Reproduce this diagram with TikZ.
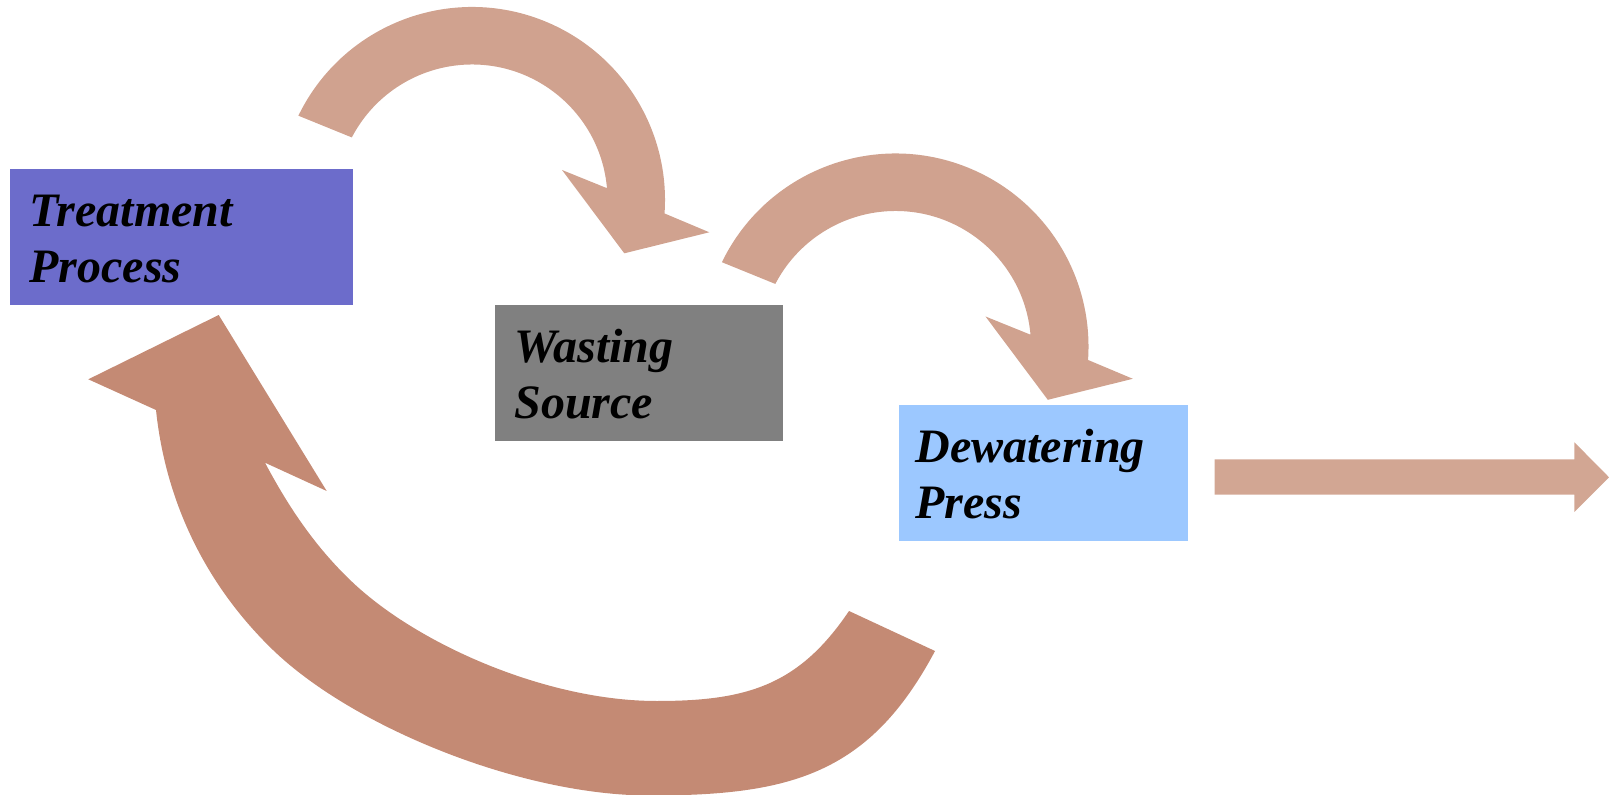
\documentclass[tikz,border=0pt]{standalone}
\usepackage{fontspec}
\setmainfont{Liberation Serif}
\definecolor{arrlight}{HTML}{D0A28F}
\definecolor{arrstraight}{HTML}{D2A693}
\definecolor{arrdark}{HTML}{C48A74}
\definecolor{tpcol}{HTML}{6C6CCB}
\definecolor{wscol}{HTML}{808080}
\definecolor{dpcol}{HTML}{9CC8FF}
\tikzset{
  boxnode/.style={anchor=north west, inner sep=0pt, draw=none, minimum height=68pt},
  lbl/.style={anchor=base west, inner sep=0pt, align=left, font=\fontsize{24}{28}\selectfont\bfseries\itshape},
  curvedarrow/.pic={
    \fill[arrlight] ([shift={(205.9:193)}]472,200)
      arc[start angle=205.9, end angle=364, radius=193]
      -- (709.3,232.3) -- (624.3,253.3) -- (562,170)
      -- ([shift={(355:135.5)}]472,200)
      arc[start angle=355, end angle=207.5, radius=135.5]
      -- cycle;
  }
}
\begin{document}
\begin{tikzpicture}[x=0.5pt,y=-0.5pt]
\useasboundingbox (0,0) rectangle (1609,795);
\clip (0,0) rectangle (1609,795);
% boxes
\node[boxnode, fill=tpcol, minimum width=171.5pt] (tp) at (10,169) {};
\node[boxnode, fill=wscol, minimum width=144pt] (ws) at (495,305) {};
\node[boxnode, fill=dpcol, minimum width=144.5pt] (dp) at (899,405) {};
% labels (base = baseline of the last line)
\node[lbl] (tpl) at (29,282.7) {Treatment\\Process};
\node[lbl] (wsl) at (514,418.3) {Wasting\\Source};
\node[lbl] (dpl) at (915,518) {Dewatering\\Press};
% curved arrows
\pic at (0,0) {curvedarrow};
\pic at (423.5,146.5) {curvedarrow};
% big return arrow
\fill[arrdark] (218.7,315) -- (326.7,491) -- (265,462.7)
  .. controls (288.9,507.7) and (316.1,548.1) .. (353.3,583)
  .. controls (418.9,644.6) and (546.7,701) .. (656.7,701)
  .. controls (746.7,701) and (798.7,685.6) .. (849,611)
  -- (935,651)
  .. controls (869.3,774.6) and (790,795.5) .. (650,795.5)
  .. controls (520,795.5) and (352.1,726.4) .. (273,650)
  .. controls (206.1,585.4) and (165.7,502.5) .. (156,410)
  -- (88.3,379.3) -- cycle;
% straight output arrow
\coordinate (out) at (1609,477.3);
\fill[arrstraight] (1214.5,459.3) -- (1574.4,459.3) -- (1574.4,442.3) -- (out) -- (1574.4,512) -- (1574.4,494.7) -- (1214.5,494.7) -- cycle;
\end{tikzpicture}
\end{document}
